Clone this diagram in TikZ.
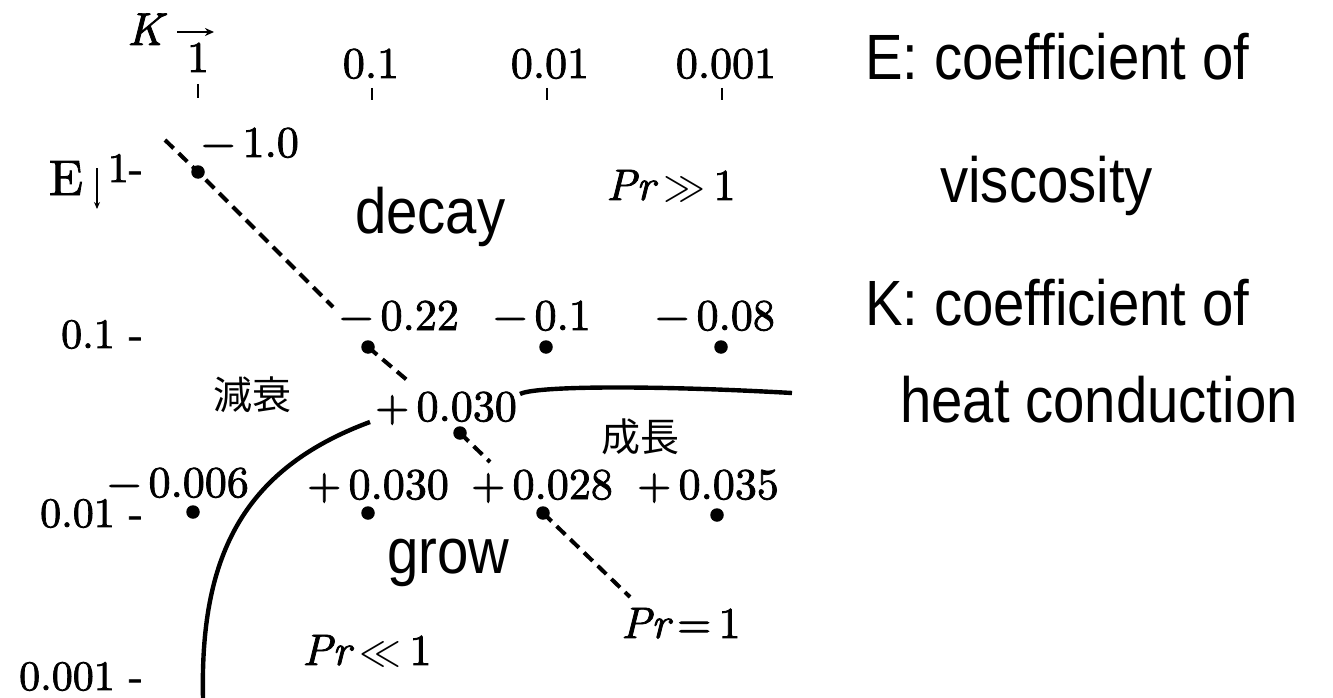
\documentclass[tikz,border=0pt]{standalone}
\usepackage{fontspec}
\usepackage{unicode-math}
\setmathfont{Latin Modern Math}
\usetikzlibrary{arrows.meta}
\newfontfamily\sansn[FakeStretch=0.88]{Liberation Sans}
\newfontfamily\cjk{Noto Sans CJK JP}
\newfontfamily\numf{lmroman10-regular}[Extension=.otf, FakeBold=1.8]
\newfontfamily\numfi{lmroman10-italic}[Extension=.otf, FakeBold=1.8]
\begin{document}
\begin{tikzpicture}[x=1pt,y=-1pt,
  num/.style={font=\numf\fontsize{44}{48}\selectfont, inner sep=0pt, anchor=base},
  axl/.style={font=\numf\fontsize{42}{46}\selectfont, inner sep=0pt, anchor=base east},
  en/.style={font=\sansn\fontsize{64}{70}\selectfont, inner sep=0pt, anchor=base west},
  cj/.style={font=\cjk\fontsize{39}{43}\selectfont, inner sep=0pt},
  dot/.style={circle, fill=black, inner sep=0pt, minimum size=13.5pt},
  prline/.style={dash pattern=on 12pt off 7pt, line width=4pt},
  bound/.style={line width=4.4pt},
  tick/.style={line width=2.6pt},
  axarrow/.style={line width=2.2pt, -{Stealth[length=9pt,width=8pt]}}]
\useasboundingbox (0,0) rectangle (1333,698);
\fill[white] (0,0) rectangle (1333,698);

% K axis
\node[font=\numfi\fontsize{46}{50}\selectfont, inner sep=0pt, anchor=base] (K) at (145,45) {K};
\coordinate (ka1) at (177,32);
\coordinate (ka2) at (214,32);
\draw[axarrow] (ka1) -- (ka2);
\node[num] (k1) at (198,72) {1};
\node[num] (k2) at (371,78) {0.1};
\node[num] (k3) at (550,78) {0.01};
\node[num] (k4) at (726,78) {0.001};
\coordinate (t1a) at (198,84); \coordinate (t1b) at (198,98);
\coordinate (t2a) at (372,88); \coordinate (t2b) at (372,100);
\coordinate (t3a) at (547,88); \coordinate (t3b) at (547,100);
\coordinate (t4a) at (722,88); \coordinate (t4b) at (722,100);
\draw[tick] (t1a) -- (t1b);
\draw[tick] (t2a) -- (t2b);
\draw[tick] (t3a) -- (t3b);
\draw[tick] (t4a) -- (t4b);

% E axis
\node[font=\numf\fontsize{50}{54}\selectfont, inner sep=0pt, anchor=base] (E) at (66,195) {E};
\coordinate (ea1) at (97,168);
\coordinate (ea2) at (97,209);
\draw[line width=2.2pt, -{Stealth[length=7pt,width=6pt]}] (ea1) -- (ea2);
\node[axl] (e1) at (143,182) {1-};
\node[axl] (e2) at (143,348) {0.1 -};
\node[axl] (e3) at (143,527) {0.01 -};
\node[axl] (e4) at (143,690) {0.001 -};

% data points
\node[dot] (d1) at (198,172) {};
\node[dot] (d2) at (368,347) {};
\node[dot] (d3) at (546,347) {};
\node[dot] (d4) at (721,347) {};
\node[dot] (d5) at (460,433) {};
\node[dot] (d6) at (193,512) {};
\node[dot] (d7) at (368,513) {};
\node[dot] (d8) at (543,513) {};
\node[dot] (d9) at (717,515) {};

% values
\node[num] (v1) at (250,157) {−\,1.0};
\node[num] (v2) at (399,330) {−\,0.22};
\node[num] (v3) at (542,330) {−\,0.1};
\node[num] (v4) at (715,330) {−\,0.08};
\node[num] (v5) at (446,421) {+\,0.030};
\node[num] (v6) at (178,497) {−\,0.006};
\node[num] (v7) at (378,499) {+\,0.030};
\node[num] (v8) at (542,499) {+\,0.028};
\node[num] (v9) at (708,499) {+\,0.035};

% Pr = 1 dashed line
\coordinate (p1s) at (165,140);
\coordinate (p1e) at (333,307);
\coordinate (p2e) at (407,380);
\coordinate (p3e) at (490,462);
\coordinate (p4e) at (630,597);
\draw[prline] (p1s) -- (d1.center) -- (p1e);
\draw[prline] (d2.center) -- (p2e);
\draw[prline] (d5.center) -- (p3e);
\draw[prline] (d8.center) -- (p4e);

% boundaries
\coordinate (b1s) at (520,394);
\coordinate (b1e) at (792,393);
\draw[bound] (b1s) .. controls (535,386) and (650,385) .. (b1e);
\coordinate (b2s) at (370,422);
\coordinate (b2e) at (203,698);
\draw[bound] (b2s) .. controls (240,470) and (200,560) .. (b2e);

% region labels
\node[cj] (jd) at (252,395) {減衰};
\node[cj] (jg) at (640,437) {成長};
\node[en] (decay) at (355,233) {decay};
\node[en] (grow) at (387,573) {grow};
\node[num] (prg) at (671,200) {{\numfi Pr}\,$\gg$\,1};
\node[num] (pre) at (681,638) {{\numfi Pr}\,=\,1};
\node[num] (prl) at (367,665) {{\numfi Pr}\,$\ll$\,1};

% legend
\node[en] (l1) at (865,80) {E: coefficient of};
\node[en] (l2) at (940,202) {viscosity};
\node[en] (l3) at (865,325) {K: coefficient of};
\node[en] (l4) at (900,422) {heat conduction};
\end{tikzpicture}
\end{document}
